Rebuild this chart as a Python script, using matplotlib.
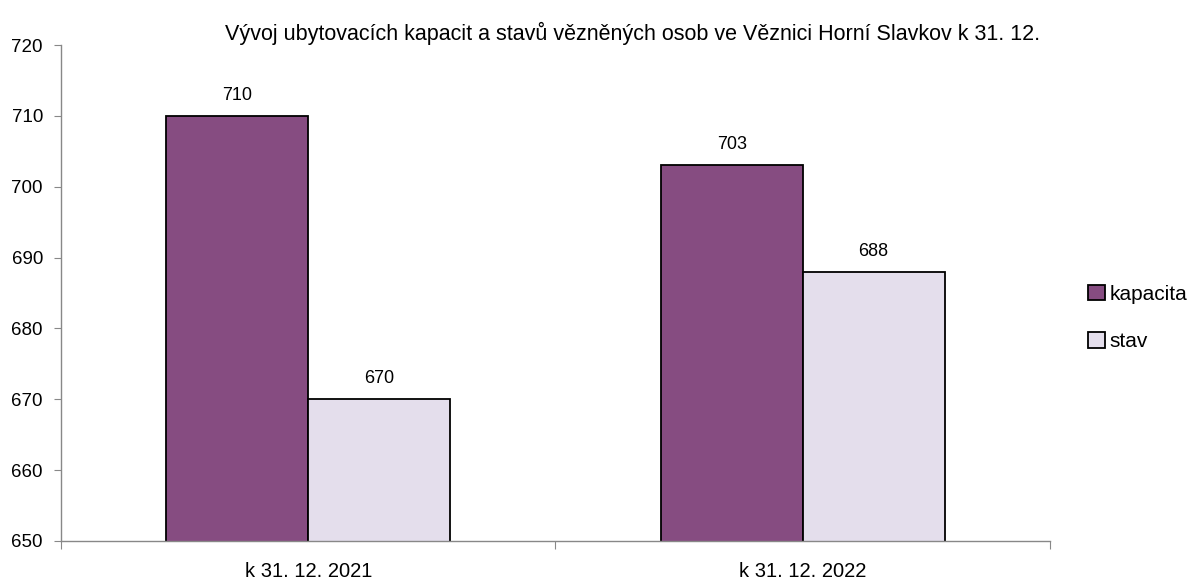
import matplotlib.pyplot as plt
import numpy as np

# data
categories = ['k 31. 12. 2021', 'k 31. 12. 2022']
kapacita = [710, 703]
stav = [670, 688]
series_names = ['kapacita', 'stav']
colors = ['#864C81', '#E4DEEC']

plt.rcParams['font.family'] = ['Liberation Sans', 'DejaVu Sans']

fig = plt.figure(figsize=(11.89, 5.86), dpi=100)
ax = fig.add_axes([0.0513, 0.0768, 0.8317, 0.8464])

x = np.arange(len(categories))
w = 0.287
b1 = ax.bar(x - w / 2, kapacita, w, color=colors[0], edgecolor='black',
            linewidth=1.3, label=series_names[0])
b2 = ax.bar(x + w / 2, stav, w, color=colors[1], edgecolor='black',
            linewidth=1.3, label=series_names[1])

for bars, vals in [(b1, kapacita), (b2, stav)]:
    for r, v in zip(bars, vals):
        ax.text(r.get_x() + r.get_width() / 2, v + 1.7, str(v),
                ha='center', va='bottom', fontsize=13)

ax.set_ylim(650, 720)
ax.set_xlim(-0.5, 1.5)
ax.set_yticks(np.arange(650, 721, 10))
ax.tick_params(axis='y', labelsize=13.5, length=5, color='#888888', pad=8)

# boundaries as major ticks, labels on minor ticks
ax.set_xticks([-0.5, 0.5, 1.5])
ax.set_xticklabels([])
ax.tick_params(axis='x', which='major', length=6, color='#888888')
ax.set_xticks(x, minor=True)
ax.set_xticklabels(categories, minor=True, fontsize=14.5)
ax.tick_params(axis='x', which='minor', length=0, pad=15)

for s in ['top', 'right']:
    ax.spines[s].set_visible(False)
for s in ['left', 'bottom']:
    ax.spines[s].set_color('#888888')
    ax.spines[s].set_linewidth(1.0)

fig.text(0.532, 0.943, 'Vývoj ubytovacích kapacit a stavů vězněných osob ve Věznici Horní Slavkov k 31. 12.',
         ha='center', va='center', fontsize=15.5)

ax.legend(loc='center left', bbox_to_anchor=(1.02, 0.45), frameon=False,
          fontsize=15, handlelength=0.8, handleheight=0.8, handletextpad=0.2,
          labelspacing=1.35)

fig.savefig('out.png', dpi=100)
